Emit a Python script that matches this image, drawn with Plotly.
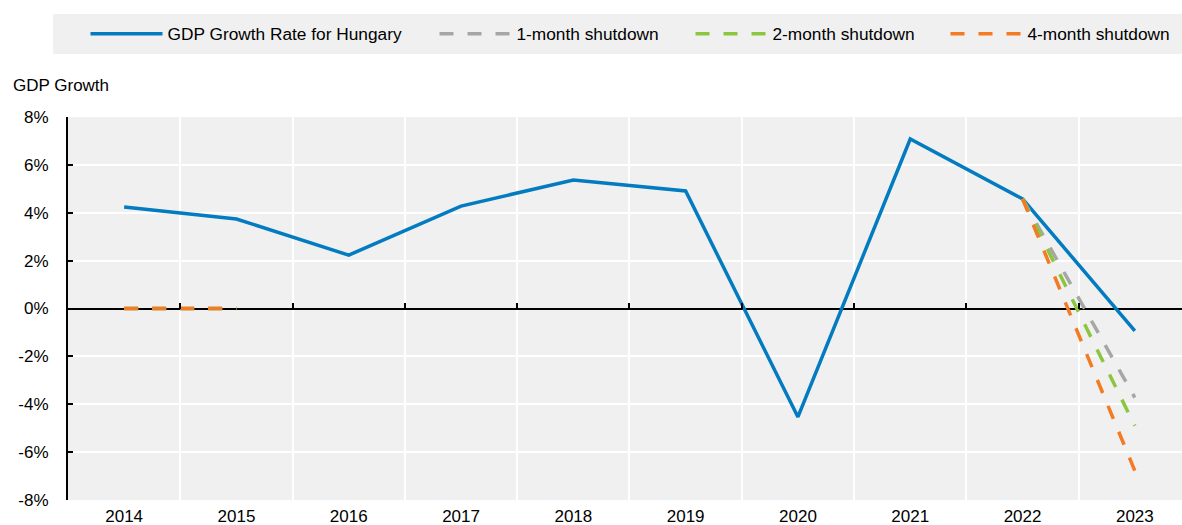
import plotly.graph_objects as go

years = ["2014", "2015", "2016", "2017", "2018", "2019", "2020", "2021", "2022", "2023"]
gdp_hungary = [4.24, 3.74, 2.23, 4.28, 5.37, 4.91, -4.53, 7.08, 4.58, -0.93]
shutdown_1m = [0, 0, None, None, None, None, None, None, 4.58, -3.72]
shutdown_2m = [0, 0, None, None, None, None, None, None, 4.58, -4.90]
shutdown_4m = [0, 0, None, None, None, None, None, None, 4.58, -6.78]
y_ticks = [-8, -6, -4, -2, 0, 2, 4, 6, 8]
y_tick_labels = [f"{v}%" for v in y_ticks]

FONT = "Arial, Liberation Sans, sans-serif"
BLUE = "#037bc1"
GRAY = "#a6a6a6"
GREEN = "#8cc63f"
ORANGE = "#f47a24"
BG = "#f0f0f0"

PLOT_L, PLOT_W = 68, 1114
PLOT_T, PLOT_H = 117, 383


def px_x(px):
    return (px - PLOT_L) / PLOT_W


def px_y(py):
    return 1 + (PLOT_T - py) / PLOT_H


DASH = "14px,14px"
fig = go.Figure()
fig.add_trace(go.Scatter(x=years, y=gdp_hungary, mode="lines", name="GDP Growth Rate for Hungary",
                         line=dict(color=BLUE, width=3.5), legend="legend"))
fig.add_trace(go.Scatter(x=years, y=shutdown_1m, mode="lines", name="1-month shutdown",
                         line=dict(color=GRAY, width=3.5, dash=DASH), legend="legend2"))
fig.add_trace(go.Scatter(x=years, y=shutdown_2m, mode="lines", name="2-month shutdown",
                         line=dict(color=GREEN, width=3.5, dash=DASH), legend="legend3"))
fig.add_trace(go.Scatter(x=years, y=shutdown_4m, mode="lines", name="4-month shutdown",
                         line=dict(color=ORANGE, width=3.5, dash=DASH), legend="legend4"))
# helper trace so the zero-level category axis (ticks at boundaries) is drawn
fig.add_trace(go.Scatter(x=years, y=[None] * len(years), xaxis="x2", mode="lines",
                         showlegend=False, hoverinfo="skip", line=dict(width=0)))

legend_common = dict(orientation="h", xanchor="left", y=px_y(34), yanchor="middle",
                     bgcolor="rgba(0,0,0,0)", font=dict(family=FONT, size=17.3, color="#000000"),
                     itemwidth=72)

fig.update_layout(
    width=1182, height=525,
    margin=dict(l=PLOT_L, r=0, t=PLOT_T, b=25),
    paper_bgcolor="white",
    plot_bgcolor=BG,
    font=dict(family=FONT, size=17, color="#000000"),
    showlegend=True,
    legend=dict(x=px_x(85.5), **legend_common),
    legend2=dict(x=px_x(434.5), **legend_common),
    legend3=dict(x=px_x(690.5), **legend_common),
    legend4=dict(x=px_x(945.5), **legend_common),
    xaxis=dict(type="category", range=[-0.5, 9.42], tickson="boundaries",
               showgrid=True, gridcolor="white", gridwidth=1.5,
               showline=False, ticks="", zeroline=False, ticklabelstandoff=4,
               tickfont=dict(family=FONT, size=17, color="#000000")),
    xaxis2=dict(type="category", matches="x", overlaying="x", anchor="free", position=0.5,
                side="bottom", tickson="boundaries", showgrid=False, showticklabels=False,
                showline=False, ticks="inside", ticklen=6, tickwidth=1.5, tickcolor="black"),
    yaxis=dict(range=[-8, 8], tickvals=y_ticks, ticktext=y_tick_labels,
               showgrid=True, gridcolor="white", gridwidth=1.5,
               showline=True, linecolor="black", linewidth=2,
               ticks="inside", ticklen=5, tickwidth=1.5, tickcolor="black",
               zeroline=True, zerolinecolor="black", zerolinewidth=2,
               ticklabelstandoff=14,
               tickfont=dict(family=FONT, size=17, color="#000000")),
    shapes=[dict(type="rect", xref="paper", yref="paper",
                 x0=px_x(53), x1=1.0, y0=px_y(54), y1=px_y(14),
                 fillcolor=BG, line=dict(width=0), layer="below")],
    annotations=[dict(text="GDP Growth", xref="paper", yref="paper",
                      x=px_x(11), xanchor="left", y=px_y(85), yanchor="middle",
                      showarrow=False, font=dict(family=FONT, size=17, color="#000000"))],
)

fig.write_html("out.html", config={"displayModeBar": False},
               post_script="document.body.style.margin='0';")
